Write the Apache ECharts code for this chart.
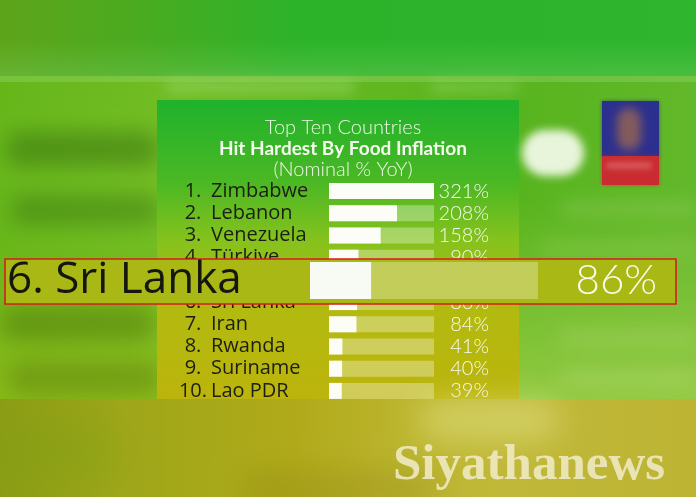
<!DOCTYPE html>
<html><head><meta charset="utf-8">
<script src="https://cdn.jsdelivr.net/npm/echarts@6/dist/echarts.min.js"></script>
<style>html,body{margin:0;padding:0;background:#6ab81a;}#c{width:696px;height:497px;}</style>
</head><body><div id="c"></div>
<script>
// ---- data ----
const ranks = ['1.','2.','3.','4.','5.','6.','7.','8.','9.','10.'];
const countries = ['Zimbabwe','Lebanon','Venezuela','Türkiye','','Sri Lanka','Iran','Rwanda','Suriname','Lao PDR'];
const inflation = [321,208,158,90,null,86,84,41,40,39];
const valueLabels = ['321%','208%','158%','90%','','86%','84%','41%','40%','39%'];
const titleLines = ['Top Ten Countries','Hit Hardest By Food Inflation','(Nominal % YoY)'];
const highlightIndex = 5;
const axisMax = 321;
const watermark = 'Siyathanews';

// ---- helpers ----
function blob(x,y,w,h,color,blur,zl,r,z){
  // shape drawn off-canvas, only its blurred shadow is shown
  return {type:'rect', zlevel: zl||0, z: z||1, shape:{x:x-2000,y:y,width:w,height:h,r:(r===undefined?Math.min(w,h)/2:r)},
    style:{fill:color, shadowColor:color, shadowBlur:blur, shadowOffsetX:2000, shadowOffsetY:0}};
}
function lin(x0,y0,x1,y1,stops){return new echarts.graphic.LinearGradient(x0,y0,x1,y1,stops.map(s=>({offset:s[0],color:s[1]})));}

const chart = echarts.init(document.getElementById('c'), null, {renderer:'canvas'});

const bgElements = [
  {type:'rect', zlevel:0, z:0, shape:{x:0,y:0,width:696,height:497}, style:{fill:'#68b81c'}},
  // top band
  {type:'rect', zlevel:0, z:0, shape:{x:0,y:0,width:696,height:76},
    style:{fill:lin(0,0,1,0,[[0,'#5ea41a'],[0.2,'#4aab20'],[0.42,'#2db32a'],[1,'#2fb52e']])}},
  {type:'rect', zlevel:0, z:0, shape:{x:0,y:40,width:696,height:36},
    style:{fill:lin(0,0,0,1,[[0,'rgba(120,205,95,0)'],[1,'rgba(120,205,95,0.35)']])}},
  // middle band
  {type:'rect', zlevel:0, z:0, shape:{x:0,y:76,width:696,height:323},
    style:{fill:lin(0,0,1,0,[[0,'#66b61a'],[0.22,'#70bc22'],[0.75,'#58b41e'],[1,'#62b82a']])}},
  {type:'rect', zlevel:0, z:0, shape:{x:0,y:230,width:160,height:169},
    style:{fill:lin(0,0,0,1,[[0,'rgba(150,185,20,0)'],[1,'rgba(150,185,20,0.7)']])}},
  {type:'rect', zlevel:0, z:0, shape:{x:519,y:200,width:177,height:199},
    style:{fill:lin(0,0,0,1,[[0,'rgba(170,210,80,0)'],[1,'rgba(170,210,80,0.7)']])}},
  {type:'rect', zlevel:0, z:0, shape:{x:0,y:76,width:696,height:6}, style:{fill:'rgba(140,210,100,0.45)'}},
  blob(165,80,190,14,'rgba(170,225,130,0.6)',12),
  blob(430,80,90,14,'rgba(170,225,130,0.5)',12),
  // blurred dark text on left
  blob(5,132,155,34,'rgba(55,110,15,0.7)',20),
  blob(10,195,150,30,'rgba(55,110,15,0.65)',20),
  blob(0,306,155,35,'rgba(70,110,10,0.65)',20),
  blob(8,362,152,32,'rgba(80,110,10,0.6)',20),
  // right side blurred shapes
  blob(522,130,62,46,'rgba(248,252,240,0.95)',8,4),
  blob(560,200,136,16,'rgba(190,228,140,0.45)',16),
  blob(540,240,156,16,'rgba(190,228,140,0.4)',16),
  blob(560,330,136,16,'rgba(200,228,140,0.45)',16),
  blob(560,370,136,16,'rgba(210,230,150,0.45)',16),
  // poster
  {type:'rect', zlevel:0, z:2, shape:{x:602,y:101,width:57,height:56}, style:{fill:'#2b2f8e', shadowBlur:4, shadowColor:'rgba(40,40,120,0.6)'}},
  {type:'rect', zlevel:0, z:2, shape:{x:602,y:156,width:57,height:29}, style:{fill:'#c92b30', shadowBlur:4, shadowColor:'rgba(180,40,40,0.6)'}},
  blob(617,108,24,42,'rgba(200,125,55,0.75)',10,0,undefined,3),
  blob(606,162,46,7,'rgba(235,160,160,0.6)',5,0,undefined,3),
  // chart panel
  {type:'rect', zlevel:0, z:4, shape:{x:157,y:100,width:362,height:299},
    style:{fill:lin(0,0,0,1,[[0,'#1fb22c'],[0.28,'#4cb824'],[0.47,'#86c21c'],[0.7,'#b2ba10'],[1,'#bcb40c']])}}
];

const topElements = [
  // bottom band (covers the lower part of the panel)
  {type:'rect', zlevel:2, z:0, shape:{x:0,y:399,width:696,height:98},
    style:{fill:lin(0,0,1,0,[[0,'#8a9c14'],[0.18,'#9ea618'],[0.42,'#b0aa1a'],[0.6,'#bdb630'],[0.72,'#c0b838'],[1,'#bdb434']])}},
  blob(420,400,140,40,'rgba(225,225,130,0.75)',30,2),
  blob(240,470,200,40,'rgba(120,105,10,0.45)',30,2),
  blob(0,420,120,60,'rgba(120,160,20,0.5)',30,2),
  // highlight box
  {type:'rect', zlevel:2, z:1, shape:{x:5,y:259,width:671,height:45},
    style:{fill:'#a9b814', stroke:'#d81c1c', lineWidth:1.6}},
  // watermark
  {type:'text', zlevel:3, z:5, x:393, y:466,
    style:{text:watermark, font:'bold 51px "Liberation Serif", serif', fill:'rgba(240,234,198,0.88)', textVerticalAlign:'middle'}}
];

const option = {
  animation:false,
  backgroundColor:'transparent',
  title:{
    left:338, top:112, textAlign:'center', zlevel:1,
    text:'{a|'+titleLines[0]+'}\n{b|'+titleLines[1]+'}\n{a|'+titleLines[2]+'}',
    textStyle:{rich:{
      a:{fontFamily:'Lato', fontWeight:300, fontSize:20, color:'#eef7e6', lineHeight:21, align:'center'},
      b:{fontFamily:'Lato', fontWeight:'bold', fontSize:19, color:'#f4faee', lineHeight:21, align:'center'}
    }}
  },
  graphic:{elements: bgElements.concat(topElements)},
  grid:[
    {left:329, top:180, width:105, height:222, zlevel:1},
    {left:310, top:262, width:228, height:37, zlevel:3}
  ],
  xAxis:[
    {gridIndex:0, type:'value', min:0, max:axisMax, show:false, zlevel:1},
    {gridIndex:1, type:'value', min:0, max:axisMax, show:false, zlevel:3}
  ],
  yAxis:[
    {gridIndex:0, type:'category', inverse:true, data:ranks, zlevel:1,
      axisLine:{show:false}, axisTick:{show:false},
      axisLabel:{align:'left', margin:149, interval:0,
        formatter:(v,i)=>'{n|'+ranks[i]+'}{t|'+countries[i]+'}',
        rich:{
          n:{fontFamily:'Open Sans', fontSize:20, color:'#1c1e14', width:26, align:'right'},
          t:{fontFamily:'Open Sans', fontSize:20, color:'#1c1e14', padding:[0,0,0,5]}
        }}},
    {gridIndex:0, type:'category', inverse:true, position:'right', data:valueLabels, zlevel:1,
      axisLine:{show:false}, axisTick:{show:false},
      axisLabel:{align:'right', margin:55, interval:0, fontFamily:'Lato', fontWeight:300, fontSize:20, color:'#f6fbef'}},
    {gridIndex:1, type:'category', data:[ranks[highlightIndex]], zlevel:3,
      axisLine:{show:false}, axisTick:{show:false},
      axisLabel:{align:'left', margin:303,
        formatter:()=>ranks[highlightIndex]+' '+countries[highlightIndex],
        fontFamily:'Open Sans', fontSize:44, color:'#15160e'}},
    {gridIndex:1, type:'category', position:'right', data:[valueLabels[highlightIndex]], zlevel:3,
      axisLine:{show:false}, axisTick:{show:false},
      axisLabel:{align:'right', margin:119, fontFamily:'Lato', fontWeight:300, fontSize:42, color:'#f8fbee'}}
  ],
  series:[
    {type:'bar', xAxisIndex:0, yAxisIndex:0, data:inflation, barWidth:16, zlevel:1,
      showBackground:true, backgroundStyle:{color:'rgba(255,255,255,0.32)'},
      itemStyle:{color:'#fbfdf6'}},
    {type:'bar', xAxisIndex:1, yAxisIndex:2, data:[inflation[highlightIndex]], barWidth:37, zlevel:3,
      showBackground:true, backgroundStyle:{color:'rgba(255,255,255,0.3)'},
      itemStyle:{color:'#f8fbf4'}}
  ]
};
chart.setOption(option);
</script></body></html>
